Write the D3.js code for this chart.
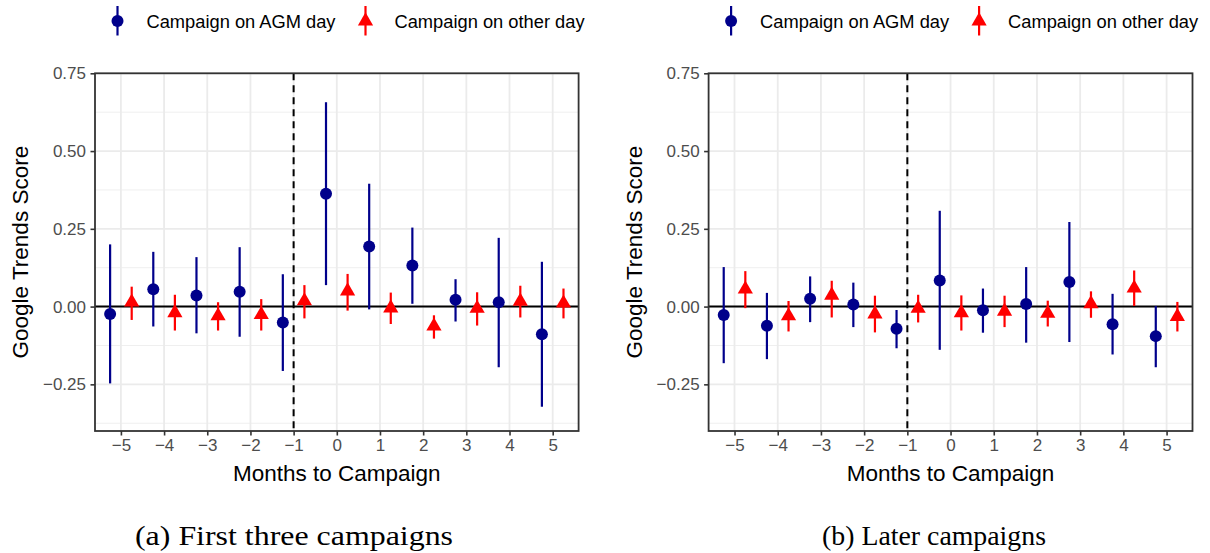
<!DOCTYPE html>
<html><head><meta charset="utf-8">
<script src="https://cdn.jsdelivr.net/npm/d3@7"></script>
<style>body{margin:0;background:#fff}svg{display:block}</style>
</head><body><svg id="c" width="1210" height="553"></svg>
<script>
const months = [-5,-4,-3,-2,-1,0,1,2,3,4,5];
const xTicks = [-5,-4,-3,-2,-1,0,1,2,3,4,5];
const yTicks = [-0.25,0,0.25,0.5,0.75];
const yMinor = [-0.375,-0.125,0.125,0.375,0.625];
const seriesNames = ["Campaign on AGM day","Campaign on other day"];
const captions = ["(a) First three campaigns","(b) Later campaigns"];

// Panel (a): first three campaigns
const aAgmEst = [-0.024,0.056,0.036,0.048,-0.051,0.363,0.193,0.132,0.022,0.014,-0.089];
const aAgmLo  = [-0.247,-0.064,-0.086,-0.097,-0.207,0.069,-0.009,0.009,-0.048,-0.195,-0.322];
const aAgmHi  = [0.200,0.176,0.159,0.191,0.104,0.657,0.395,0.254,0.088,0.221,0.144];
const aOthEst = [0.014,-0.020,-0.030,-0.026,0.018,0.050,-0.005,-0.063,-0.006,0.017,0.011];
const aOthLo  = [-0.043,-0.077,-0.077,-0.077,-0.038,-0.013,-0.056,-0.103,-0.061,-0.035,-0.038];
const aOthHi  = [0.064,0.038,0.014,0.024,0.069,0.105,0.045,-0.028,0.046,0.067,0.058];

// Panel (b): later campaigns
const bAgmEst = [-0.027,-0.062,0.025,0.007,-0.071,0.084,-0.012,0.008,0.079,-0.057,-0.095];
const bAgmLo  = [-0.182,-0.169,-0.050,-0.066,-0.134,-0.139,-0.084,-0.116,-0.114,-0.154,-0.195];
const bAgmHi  = [0.127,0.044,0.097,0.077,-0.011,0.308,0.058,0.127,0.272,0.041,0.002];
const bOthEst = [0.056,-0.030,0.036,-0.024,-0.006,-0.020,-0.015,-0.022,0.009,0.059,-0.032];
const bOthLo  = [-0.005,-0.080,-0.035,-0.083,-0.051,-0.077,-0.066,-0.064,-0.036,0.002,-0.080];
const bOthHi  = [0.114,0.018,0.083,0.035,0.038,0.036,0.035,0.019,0.049,0.116,0.015];

const BLUE = "#00008B", RED = "#FF0000";
const svg = d3.select("#c");
const sans = "'Liberation Sans', Arial, sans-serif";
const serif = "'Liberation Serif','DejaVu Serif',serif";

function build(est, lo, hi, off){
  return months.map((m,i)=>({x:m+off, y:est[i], lo:lo[i], hi:hi[i]}));
}
const panels = [
  {left:95, right:578.6, agm:build(aAgmEst,aAgmLo,aAgmHi,-0.25), oth:build(aOthEst,aOthLo,aOthHi,0.25),
   cap:captions[0], capX:294, capW:318},
  {left:708.6, right:1192.5, agm:build(bAgmEst,bAgmLo,bAgmHi,-0.25), oth:build(bOthEst,bOthLo,bOthHi,0.25),
   cap:captions[1], capX:934, capW:224}
];
const pTop = 73.3, pBottom = 431;
const y = d3.scaleLinear().domain([-0.40,0.75]).range([pBottom, pTop]);
const fmtY = d => d3.format(".2f")(d).replace("-","\u2212");
const fmtX = d => String(d).replace("-","\u2212");
const tri = d3.symbol().type(d3.symbolTriangle).size(100);

panels.forEach((p,pi)=>{
  const x = d3.scaleLinear().domain([-5.6,5.6]).range([p.left,p.right]);
  const g = svg.append("g");
  // grid
  g.selectAll(".ymin").data(yMinor).join("line")
    .attr("x1",p.left).attr("x2",p.right).attr("y1",d=>y(d)).attr("y2",d=>y(d))
    .attr("stroke","#EFEFEF").attr("stroke-width",1);
  g.selectAll(".ymaj").data(yTicks).join("line")
    .attr("x1",p.left).attr("x2",p.right).attr("y1",d=>y(d)).attr("y2",d=>y(d))
    .attr("stroke","#EBEBEB").attr("stroke-width",1.8);
  g.selectAll(".xmaj").data(xTicks).join("line")
    .attr("y1",pTop).attr("y2",pBottom).attr("x1",d=>x(d)).attr("x2",d=>x(d))
    .attr("stroke","#EBEBEB").attr("stroke-width",1.8);
  // reference lines
  g.append("line").attr("x1",p.left).attr("x2",p.right).attr("y1",y(0)).attr("y2",y(0))
    .attr("stroke","#000").attr("stroke-width",2);
  g.append("line").attr("x1",x(-1)).attr("x2",x(-1)).attr("y1",pTop).attr("y2",pBottom)
    .attr("stroke","#000").attr("stroke-width",2).attr("stroke-dasharray","7,5");
  // axes
  const ax = g.append("g").attr("transform",`translate(0,${pBottom})`)
    .call(d3.axisBottom(x).tickValues(xTicks).tickFormat(fmtX).tickSize(4.5).tickPadding(3));
  const ay = g.append("g").attr("transform",`translate(${p.left},0)`)
    .call(d3.axisLeft(y).tickValues(yTicks).tickFormat(fmtY).tickSize(4.5).tickPadding(4.5));
  [ax,ay].forEach(a=>{
    a.select(".domain").remove();
    a.selectAll(".tick line").attr("stroke","#333").attr("stroke-width",1.6);
    a.selectAll(".tick text").attr("fill","#4D4D4D").style("font-family",sans).style("font-size","17px");
  });
  // border
  g.append("rect").attr("x",p.left).attr("y",pTop).attr("width",p.right-p.left).attr("height",pBottom-pTop)
    .attr("fill","none").attr("stroke","#333").attr("stroke-width",1.8);
  // error bars + points
  const pts = g.append("g");
  pts.selectAll(".ea").data(p.agm).join("line")
    .attr("x1",d=>x(d.x)).attr("x2",d=>x(d.x)).attr("y1",d=>y(d.lo)).attr("y2",d=>y(d.hi))
    .attr("stroke",BLUE).attr("stroke-width",2.2);
  pts.selectAll(".pa").data(p.agm).join("circle")
    .attr("cx",d=>x(d.x)).attr("cy",d=>y(d.y)).attr("r",6).attr("fill",BLUE);
  pts.selectAll(".eo").data(p.oth).join("line")
    .attr("x1",d=>x(d.x)).attr("x2",d=>x(d.x)).attr("y1",d=>y(d.lo)).attr("y2",d=>y(d.hi))
    .attr("stroke",RED).attr("stroke-width",2.2);
  pts.selectAll(".po").data(p.oth).join("path")
    .attr("d",tri).attr("transform",d=>`translate(${x(d.x)},${y(d.y)})`).attr("fill",RED);
  // axis titles
  const cx = (p.left+p.right)/2;
  g.append("text").attr("x",cx).attr("y",481).attr("text-anchor","middle")
    .style("font-family",sans).style("font-size","22.5px").attr("fill","#000").text("Months to Campaign");
  g.append("text").attr("transform",`translate(${p.left-67},${(pTop+pBottom)/2}) rotate(-90)`)
    .attr("text-anchor","middle").style("font-family",sans).style("font-size","22.5px")
    .attr("fill","#000").text("Google Trends Score");
  // caption
  g.append("text").attr("x",p.capX).attr("y",545).attr("text-anchor","middle")
    .attr("textLength",p.capW).attr("lengthAdjust","spacingAndGlyphs")
    .style("font-family",serif).style("font-size","28px")
    .attr("fill","#000").text(p.cap);
  // legend
  const lg = g.append("g").attr("transform",`translate(${p.left+22.5},0)`);
  lg.append("line").attr("x1",0).attr("x2",0).attr("y1",6).attr("y2",35.5)
    .attr("stroke",BLUE).attr("stroke-width",2.2);
  lg.append("circle").attr("cx",0).attr("cy",21).attr("r",6).attr("fill",BLUE);
  lg.append("text").attr("x",29).attr("y",28).style("font-family",sans).style("font-size","18.3px")
    .attr("fill","#000").text(seriesNames[0]);
  lg.append("line").attr("x1",248).attr("x2",248).attr("y1",6).attr("y2",35.5)
    .attr("stroke",RED).attr("stroke-width",2.2);
  lg.append("path").attr("d",tri).attr("transform","translate(248,21)").attr("fill",RED);
  lg.append("text").attr("x",277).attr("y",28).style("font-family",sans).style("font-size","18.3px")
    .attr("fill","#000").text(seriesNames[1]);
});
</script></body></html>
